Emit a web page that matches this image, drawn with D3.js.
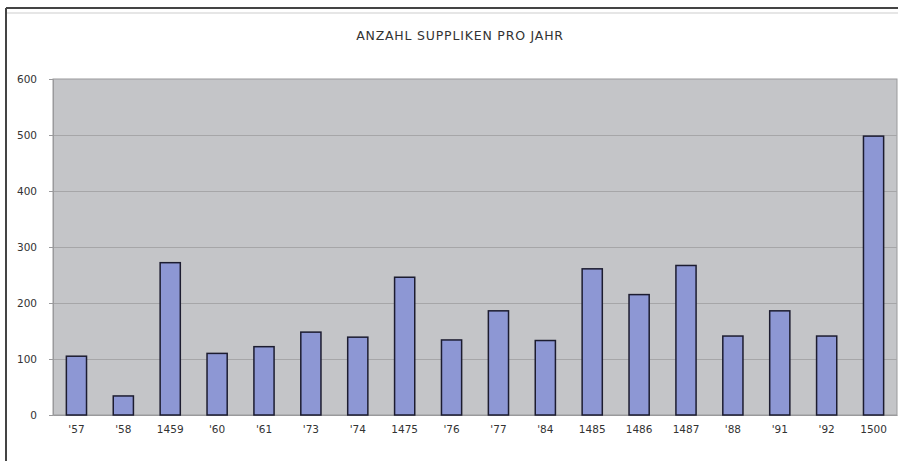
<!DOCTYPE html>
<html>
<head>
<script src="https://cdn.jsdelivr.net/npm/d3@7"></script>
<style>
  body { margin: 0; background: #fff; }
  text { font-family: "DejaVu Sans", Verdana, sans-serif; fill: #333; }
</style>
</head>
<body>
<svg width="898" height="461"></svg>
<script>
// categories and values
var years = ["'57", "'58", "1459", "'60", "'61", "'73", "'74", "1475", "'76", "'77",
             "'84", "1485", "1486", "1487", "'88", "'91", "'92", "1500"];
var counts = [105, 34, 272, 110, 122, 148, 139, 246, 134, 186,
              133, 261, 215, 267, 141, 186, 141, 498];
var yTicks = [0, 100, 200, 300, 400, 500, 600];

var svg = d3.select("svg");
var plotL = 53, plotR = 897, plotT = 79, plotB = 415;

// outer frame
svg.append("line").attr("x1", 6).attr("x2", 898).attr("y1", 8).attr("y2", 8)
  .attr("stroke", "#444").attr("stroke-width", 2);
svg.append("line").attr("x1", 6).attr("x2", 6).attr("y1", 8).attr("y2", 461)
  .attr("stroke", "#444").attr("stroke-width", 2);
svg.append("line").attr("x1", 7).attr("x2", 898).attr("y1", 13).attr("y2", 13)
  .attr("stroke", "#e6e6e6").attr("stroke-width", 2);

svg.append("text").attr("x", 460).attr("y", 40).attr("text-anchor", "middle")
  .style("font-size", "12.5px").style("letter-spacing", "0.8px")
  .text("ANZAHL SUPPLIKEN PRO JAHR");

var x = d3.scaleBand().domain(years).range([plotL, plotR]).paddingInner(0.57).paddingOuter(0.285);
var y = d3.scaleLinear().domain([0, 600]).range([plotB, plotT]);

svg.append("rect").attr("x", plotL).attr("y", plotT)
  .attr("width", plotR - plotL).attr("height", plotB - plotT)
  .attr("fill", "#c4c5c8").attr("stroke", "#9a9a9c");

// gridlines
svg.selectAll(".grid").data(yTicks.slice(1, -1)).enter().append("line")
  .attr("x1", plotL).attr("x2", plotR)
  .attr("y1", function(d) { return y(d) + 0.5 })
  .attr("y2", function(d) { return y(d) + 0.5 })
  .attr("stroke", "#a6a6a8");

var yAxis = svg.append("g").attr("transform", "translate(" + plotL + ",0)")
  .call(d3.axisLeft(y).tickValues(yTicks).tickSize(4).tickPadding(12));
yAxis.select(".domain").attr("stroke", "#9a9a9c");
yAxis.selectAll(".tick line").attr("stroke", "#9a9a9c");
yAxis.selectAll("text").style("font-size", "10.5px").attr("fill", "#333");

var xAxis = svg.append("g").attr("transform", "translate(0," + plotB + ")")
  .call(d3.axisBottom(x).tickSize(0).tickPadding(11));
xAxis.select(".domain").attr("stroke", "#9a9a9c");
xAxis.selectAll("text").style("font-size", "10.5px").attr("fill", "#333");

svg.selectAll(".bar").data(counts).enter().append("rect")
  .attr("x", function(d, i) { return x(years[i]) })
  .attr("y", function(d) { return y(d) })
  .attr("width", x.bandwidth())
  .attr("height", function(d) { return plotB - y(d) })
  .attr("fill", "#8d97d4")
  .attr("stroke", "#1c1c30")
  .attr("stroke-width", 1.5);
</script>
</body>
</html>
